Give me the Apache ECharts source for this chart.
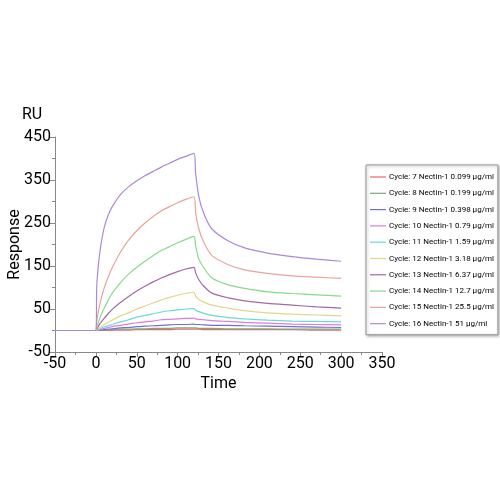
<!DOCTYPE html>
<html>
<head>
<meta charset="utf-8">
<script src="https://cdn.jsdelivr.net/npm/echarts@6/dist/echarts.min.js"></script>
<style>html,body{margin:0;padding:0;background:#fff}#c{width:500px;height:500px}</style>
</head>
<body>
<div id="c"></div>
<script>
const times = [-50,0,1,2,5,10,15,20,30,40,50,60,70,80,90,100,110,120,122,126,132,142,162,182,210,240,270,300];
const seriesNames = [
  'Cycle: 7 Nectin-1 0.099 µg/ml',
  'Cycle: 8 Nectin-1 0.199 µg/ml',
  'Cycle: 9 Nectin-1 0.398 µg/ml',
  'Cycle: 10 Nectin-1 0.79 µg/ml',
  'Cycle: 11 Nectin-1 1.59 µg/ml',
  'Cycle: 12 Nectin-1 3.18 µg/ml',
  'Cycle: 13 Nectin-1 6.37 µg/ml',
  'Cycle: 14 Nectin-1 12.7 µg/ml',
  'Cycle: 15 Nectin-1 25.5 µg/ml',
  'Cycle: 16 Nectin-1 51 µg/ml'
];
const c7  = [0,0,0,0,0,0,0,1,1,1,2,2,2,2,2,3,3,3,3,3,2,2,2,2,2,2,1,1];
const c8  = [0,0,0,0,0,1,1,2,3,3,4,4,5,5,5,6,6,6,6,5,5,5,4,4,4,3,3,3];
const c9  = [0,0,0,0,1,2,3,4,6,7,9,10,11,12,13,14,14,15,14,14,13,12,12,11,10,9,8,7];
const c10 = [0,0,0,1,2,5,7,9,12,15,18,20,22,25,26,27,28,29,27,26,25,23,21,19,17,15,14,13];
const c11 = [0,0,1,2,4,8,11,14,20,25,31,35,39,43,46,48,50,51,47,44,40,35,30,27,24,22,21,20];
const c12 = [0,0,1,3,7,14,19,24,34,41,50,57,64,71,77,82,86,89,80,72,66,59,52,46,41,38,36,34];
const c13 = [0,0,3,6,16,28,39,49,65,79,92,103,113,122,130,137,143,147,134,118,103,87,76,69,63,59,55,52];
const c14 = [0,0,7,13,30,51,70,87,111,131,147,161,174,186,195,204,212,219,197,166,146,122,106,98,90,86,83,80];
const c15 = [0,0,20,33,63,98,124,146,182,210,232,250,265,278,288,297,305,311,275,236,205,174,153,141,133,127,124,121];
const c16 = [0,0,99,130,184,238,268,288,316,334,348,360,370,380,389,398,405,412,366,311,272,236,208,192,180,172,166,161];
const allValues = [c7,c8,c9,c10,c11,c12,c13,c14,c15,c16];
const colors = ['#e46a6a','#7fa67f','#6f6fcf','#e07ae0','#6cd8d8','#e2d58e','#a468a4','#8ad88a','#e9a39b','#aa8ad8'];

const chart = echarts.init(document.getElementById('c'));
const font = 'Roboto, "Liberation Sans", sans-serif';
chart.setOption({
  animation: false,
  backgroundColor: '#fff',
  color: colors,
  graphic: [{
    type: 'text', left: 22, top: 107,
    style: { text: 'RU', font: '16px ' + font, fill: '#000' }
  }],
  grid: { left: 55, right: 118, top: 137, bottom: 148, containLabel: false, outerBoundsMode: 'none' },
  legend: {
    orient: 'vertical', left: 366, top: 165,
    backgroundColor: '#fff', borderColor: '#999', borderWidth: 1,
    shadowBlur: 3, shadowColor: 'rgba(0,0,0,0.3)', shadowOffsetX: 1, shadowOffsetY: 1,
    padding: [7, 4, 6, 4],
    icon: 'rect',
    itemWidth: 16, itemHeight: 1.2, itemGap: 6.3,
    textStyle: { fontSize: 8, lineHeight: 10, fontFamily: font, color: '#000', padding: [0,0,0,-2] },
    data: seriesNames
  },
  xAxis: {
    type: 'value', min: -50, max: 350, interval: 50,
    name: 'Time', nameLocation: 'middle', nameGap: 24, nameMoveOverlap: false,
    nameTextStyle: { fontSize: 16, fontFamily: font, color: '#000' },
    axisLine: { show: true, onZero: false, lineStyle: { color: '#888' } },
    axisTick: { show: true, length: 5, lineStyle: { color: '#888' } },
    minorTick: { show: true, splitNumber: 2, length: 3, lineStyle: { color: '#888' } },
    axisLabel: { fontSize: 16, fontFamily: font, color: '#000', margin: 4 },
    splitLine: { show: false }
  },
  yAxis: {
    type: 'value', min: -50, max: 450, interval: 100,
    name: 'Response', nameLocation: 'middle', nameGap: 32, nameRotate: 90, nameMoveOverlap: false,
    nameTextStyle: { fontSize: 16, fontFamily: font, color: '#000' },
    axisLine: { show: true, onZero: false, lineStyle: { color: '#888' } },
    axisTick: { show: true, length: 5, lineStyle: { color: '#888' } },
    minorTick: { show: true, splitNumber: 2, length: 3, lineStyle: { color: '#888' } },
    axisLabel: { fontSize: 16, fontFamily: font, color: '#000', margin: 4 },
    splitLine: { show: false }
  },
  series: allValues.map((vals, i) => ({
    name: seriesNames[i],
    type: 'line',
    symbol: 'none',
    smooth: 0.25,
    lineStyle: { width: 1.2, color: colors[i] },
    itemStyle: { color: colors[i] },
    data: times.map((t, j) => [t, vals[j]])
  }))
});
</script>
</body>
</html>
